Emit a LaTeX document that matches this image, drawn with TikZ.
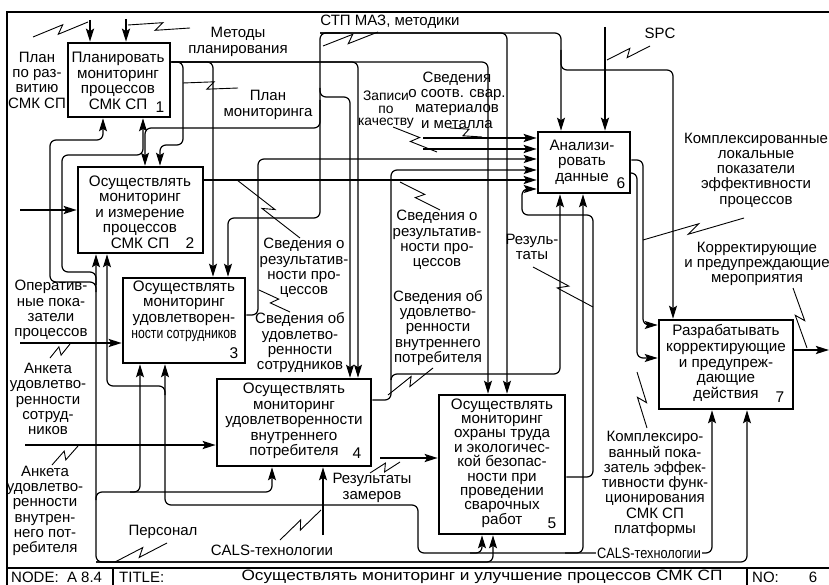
\documentclass[tikz,border=0pt]{standalone}
\usepackage{fontspec}
\setmainfont{Liberation Sans}
\usepackage{graphicx}
\usepackage{tikz}
\usetikzlibrary{arrows.meta,calc,positioning}
\tikzset{
  box/.style={draw,line width=2.6pt,inner sep=0pt},
  btxt/.style={align=center,inner sep=0pt,font=\fontsize{15.2}{15.6}\selectfont},
  lbl/.style={align=center,inner sep=0pt,font=\fontsize{15}{15.3}\selectfont},
  num/.style={inner sep=0pt,font=\fontsize{15.5}{15.5}\selectfont},
  ar/.style={line width=1.2pt,rounded corners=6pt,-{Stealth[length=13pt,width=8pt,inset=2.5pt]}},
  tar/.style={ar,line width=2.3pt},
  ldr/.style={line width=0.9pt},
  frm/.style={line width=1.8pt}
}
\newcommand{\zz}[2]{\draw[ldr] (#1) -- ($(#1)!0.56!(#2)!4pt!90:(#2)$) -- ($(#1)!0.44!(#2)!4pt!-90:(#2)$) -- (#2);}

\begin{document}
\begin{tikzpicture}[x=1pt,y=-1pt]
\useasboundingbox (0,0) rectangle (829,585);
\draw[frm] (829,12) -- (7,12) -- (7,585); \draw[frm] (7,568) -- (829,568);
\draw[frm] (113,568) -- (113,585) (747,568) -- (747,585);
\node[lbl,anchor=west] (tnd) at (11,577) {NODE:\ \ A 8.4};
\node[lbl,anchor=west] (ttl) at (119,577) {TITLE:};
\node[lbl] (ttx) at (482,577) {\scalebox{1.15}[1]{Осуществлять мониторинг и улучшение процессов СМК СП}};
\node[lbl,anchor=west] (tno) at (752,577) {NO:}; \node[lbl] (tnn) at (813,577) {6};

\node[box,minimum width=102pt,minimum height=74pt] (b1) at (119,80) {};
\node[box,minimum width=125pt,minimum height=86pt] (b2) at (140.5,210) {};
\node[box,minimum width=122pt,minimum height=85pt] (b3) at (184,320.5) {};
\node[box,minimum width=154pt,minimum height=87pt] (b4) at (294,422.5) {};
\node[box,minimum width=126pt,minimum height=139pt] (b5) at (502,464.5) {};
\node[box,minimum width=92pt,minimum height=61pt] (b6) at (584,162.5) {};
\node[box,minimum width=134pt,minimum height=89pt] (b7) at (726,364.5) {};

\node[btxt] (t1) at (118,81) {Планировать\\мониторинг\\процессов\\СМК СП}; \node[num] (n1) at (160,107) {1};
\node[btxt] (t2) at (140,212) {Осуществлять\\мониторинг\\и измерение\\процессов\\СМК СП}; \node[num] (n2) at (190,243) {2};
\node[btxt] (t3) at (184,311) {Осуществлять\\мониторинг\\удовлетворен-\\\scalebox{0.8}[1]{ности сотрудников}}; \node[num] (n3) at (234,353) {3};
\node[btxt] (t4) at (294,421) {Осуществлять\\мониторинг\\удовлетворенности\\внутреннего\\потребителя}; \node[num] (n4) at (357,453) {4};
\node[btxt,font=\fontsize{15.2}{14.4}\selectfont] (t5) at (502,463) {Осуществлять\\мониторинг\\охраны труда\\и экологичес-\\кой безопас-\\ности при\\проведении\\сварочных\\работ}; \node[num] (n5) at (552,523) {5};
\node[btxt] (t6) at (582,162) {Анализи-\\ровать\\данные}; \node[num] (n6) at (621,183) {6};
\node[btxt] (t7) at (726,363) {Разрабатывать\\корректирующие\\и предупреж-\\дающие\\действия}; \node[num] (n7) at (780,397) {7};

\draw[tar] (90,20) -- (b1.north -| 90,0); \zz{33,37}{88,22}
\draw[tar] (126,19) -- (b1.north -| 126,0); \zz{128,25}{190,28}

\draw[ar] (b1.east |- 0,62) -- (183,62) -- (183,145) -- (160,145) -- (b2.north -| 160,0);
\draw[ar] (b1.east |- 0,62) -- (213,62) -- (b3.north -| 213,0);
\draw[ar] (b1.east |- 0,62) -- (358,62) -- (b4.north -| 358,0);
\draw[ar] (b1.east |- 0,62) -- (488,62) -- (b5.north -| 488,0);
\zz{183,83}{238,88}

\draw[ar] (340,33) -- (320,33) -- (320,128) -- (145,128) -- (b2.north -| 145,0);
\draw[ar] (320,100) -- (320,218) -- (228,218) -- (b3.north -| 228,0);
\draw[ar] (320,88) -- (320,97) -- (350,97) -- (b4.north -| 350,0);
\draw[ar] (320,33) -- (507,33) -- (b5.north -| 507,0);
\draw[ar] (320,33) -- (561,33) -- (b6.north -| 561,0);
\draw[ar] (561,50) -- (561,70) -- (673,70) -- (b7.north -| 673,0);
\zz{378,32}{323,46}

\draw[tar] (605,27) -- (b6.north -| 605,0); \zz{607,60}{650,46}
\draw[tar] (423,138) -- (b6.west |- 0,138); \zz{450,128}{482,137}
\draw[tar] (423,149) -- (b6.west |- 0,149); \zz{393,127}{437,152}
\draw[ar] (b3.east |- 0,315) -- (258,315) -- (258,159) -- (b6.west |- 0,159); \zz{259,290}{290,312}
\draw[ar] (b4.east |- 0,400) -- (391,400) -- (391,170) -- (b6.west |- 0,170); \zz{388,395}{433,368}
\draw[ar] (391,380) -- (391,374) -- (560,374) -- (b6.south -| 560,0);
\draw[tar] (b2.east |- 0,180) -- (b6.west |- 0,180); \zz{237,180}{300,238} \zz{400,182}{440,210}
\draw[ar] (b5.east |- 0,477) -- (593,477) -- (593,215) -- (522,215) -- (522,189) -- (b6.west |- 0,189); \zz{533,267}{593,307}

\draw[ar] (b6.east |- 0,160) -- (643,160) -- (643,325) -- (b7.west |- 0,325); \zz{744,218}{643,240}
\draw[ar] (b6.east |- 0,173) -- (637,173) -- (637,358) -- (b7.west |- 0,358); \zz{647,428}{637,372}
\draw[tar] (b7.east |- 0,350) -- (829,350); \zz{793,288}{807,348}

\draw[tar] (20,210) -- (b2.west |- 0,210);
\draw[tar] (20,343) -- (b3.west |- 0,343); \zz{50,358}{70,344}
\draw[tar] (25,445) -- (b4.west |- 0,445); \zz{52,465}{78,446}
\draw[tar] (380,458) -- (b5.west |- 0,458); \zz{370,473}{400,462}

\draw[ar] (140,562) -- (96,562) -- (b2.south -| 96,0);
\draw[ar] (96,285) -- (96,272) -- (62,272) -- (62,155) -- (143,155) -- (b1.south -| 143,0);
\draw[ar] (96,292) -- (96,282) -- (50,282) -- (50,140) -- (103,140) -- (b1.south -| 103,0);
\draw[ar] (96,500) -- (96,492) -- (272,492) -- (b4.south -| 272,0);
\draw[ar] (130,492) -- (140,492) -- (b3.south -| 140,0);
\draw[ar] (96,562) -- (493,562) -- (b5.south -| 493,0);
\draw[ar] (96,562) -- (747,562) -- (b7.south -| 747,0);
\zz{115,562}{167,543}

\draw[ar] (323,535) -- (b4.south -| 323,0); \zz{280,540}{321,510}
\draw[ar] (598,553) -- (418,553) -- (418,505) -- (165,505) -- (b3.south -| 165,0);
\draw[ar] (165,395) -- (165,386) -- (107,386) -- (b2.south -| 107,0);
\draw[ar] (470,553) -- (482,553) -- (b5.south -| 482,0);
\draw[ar] (565,553) -- (583,553) -- (b6.south -| 583,0);
\draw[ar] (598,553) -- (712,553) -- (b7.south -| 712,0);

\node[lbl] (lplan) at (37,80) {План\\по раз-\\витию\\СМК СП};
\node[lbl] (lmet) at (238,42) {Методы\\планирования};
\node[lbl] (lstp) at (390,22) {СТП МАЗ, методики};
\node[lbl] (lplm) at (268,105) {План\\мониторинга};
\node[lbl,font=\fontsize{13.8}{12.6}\selectfont] (lzap) at (386,110) {Записи\\по\\качеству};
\node[lbl] (lsoot) at (457,100) {Сведения\\о соотв. свар.\\материалов\\и металла};
\node[lbl] (lspc) at (660,33) {SPC};
\node[lbl] (lkl) at (756,170) {Комплексированные\\локальные\\показатели\\эффективности\\процессов};
\node[lbl] (lkor) at (757,264) {Корректирующие\\и предупреждающие\\мероприятия};
\node[lbl] (lsr1) at (304,268) {Сведения о\\результатив-\\ности про-\\цессов};
\node[lbl] (lsus) at (300,343) {Сведения об\\удовлетво-\\ренности\\сотрудников};
\node[lbl] (lsr2) at (437,240) {Сведения о\\результатив-\\ности про-\\цессов};
\node[lbl] (lsvp) at (438,328) {Сведения об\\удовлетво-\\ренности\\внутреннего\\потребителя};
\node[lbl] (lrez) at (532,247) {Резуль-\\таты};
\node[lbl] (lkp) at (655,484) {Комплексиро-\\ванный пока-\\затель эффек-\\тивности функ-\\ционирования\\СМК СП\\платформы};
\node[lbl] (lop) at (51,310) {Оператив-\\ные пока-\\затели\\процессов};
\node[lbl] (las) at (48,399) {Анкета\\удовлетво-\\ренности\\сотруд-\\ников};
\node[lbl] (lav) at (45,511) {Анкета\\удовлетво-\\ренности\\внутрен-\\него пот-\\ребителя};
\node[lbl] (lper) at (163,532) {Персонал};
\node[lbl] (lcals) at (272,550) {CALS-технологии};
\node[lbl] (lrz) at (372,488) {Результаты\\замеров};
\node[lbl,fill=white,inner sep=1pt] (lcals2) at (649,553) {\scalebox{0.85}[1]{CALS-технологии}};
\end{tikzpicture}
\end{document}
